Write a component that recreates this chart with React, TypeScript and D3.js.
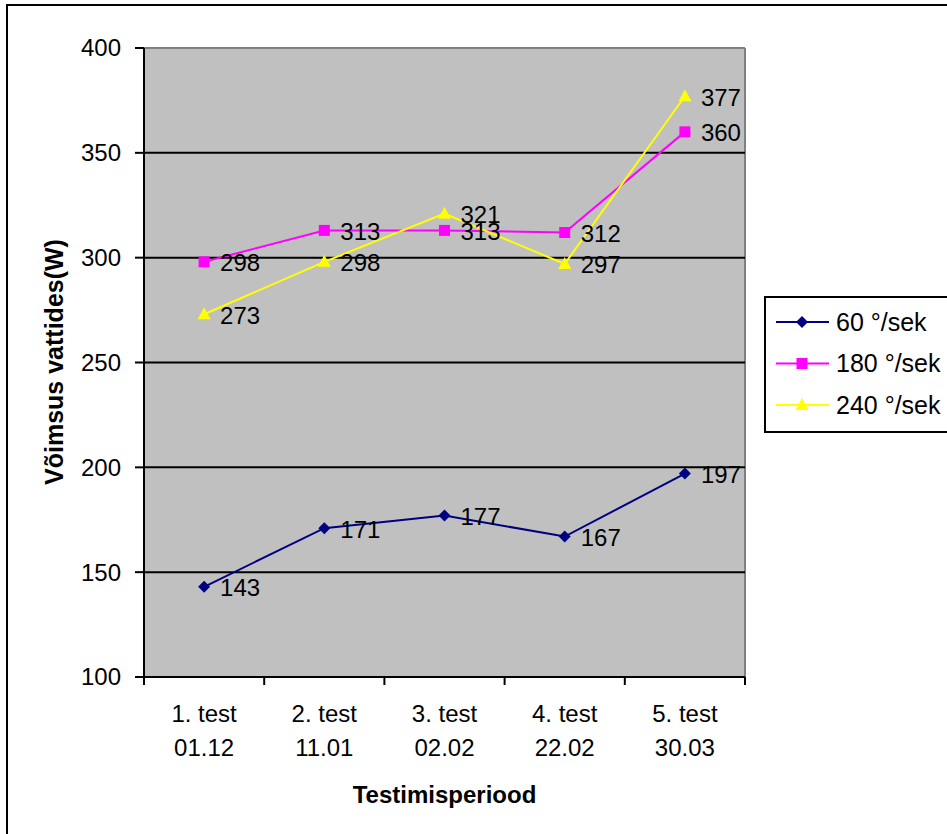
import React from "react";
import * as d3 from "d3";

const categories = ["1. test|01.12", "2. test|11.01", "3. test|02.02", "4. test|22.02", "5. test|30.03"];
const seriesNames = ["60 °/sek", "180 °/sek", "240 °/sek"];
const values60 = [143, 171, 177, 167, 197];
const values180 = [298, 313, 313, 312, 360];
const values240 = [273, 298, 321, 297, 377];
const yTicks = [100, 150, 200, 250, 300, 350, 400];
const colors = ["#000080", "#FF00FF", "#FFFF00"];
const markers = ["diamond", "square", "triangle"];

const W = 947;
const H = 834;
const FONT = "Arial, 'Liberation Sans', sans-serif";

function Marker({ kind, x, y, color }: { kind: string; x: number; y: number; color: string }) {
  if (kind === "diamond") {
    const s = 6;
    return <path d={`M${x},${y - s}L${x + s},${y}L${x},${y + s}L${x - s},${y}Z`} fill={color} />;
  }
  if (kind === "square") {
    const s = 5.5;
    return <rect x={x - s} y={y - s} width={2 * s} height={2 * s} fill={color} />;
  }
  const h = 12, w = 13;
  return <path d={`M${x},${y - h / 2 - 1}L${x + w / 2},${y + h / 2 - 1}L${x - w / 2},${y + h / 2 - 1}Z`} fill={color} />;
}

export default function App() {
  const series = [values60, values180, values240];
  const x = d3.scaleBand<string>().domain(categories).range([144, 745]).padding(0);
  const y = d3.scaleLinear().domain([100, 400]).range([677, 48]);
  const cx = (c: string) => (x(c) as number) + x.bandwidth() / 2;
  const line = d3
    .line<number>()
    .x((_, i) => cx(categories[i]))
    .y((d) => y(d));

  const left = 144, right = 745, top = 48, bottom = 677;
  const boundaries = [...categories.map((c) => x(c) as number), right];

  const legendX = 765, legendY = 297;
  const legendRowY = [322, 363.5, 405];

  return (
    <svg
      width={W}
      height={H}
      style={{ position: "absolute", left: 0, top: 0, background: "#fff" }}
      fontFamily={FONT}
    >
      {/* outer frame */}
      <rect x={7} y={5} width={1100} height={1000} fill="#fff" stroke="#000" strokeWidth={2} />

      {/* plot area */}
      <rect x={left} y={top} width={right - left} height={bottom - top} fill="#C0C0C0" />
      <line x1={left} x2={right} y1={top} y2={top} stroke="#808080" strokeWidth={2} />
      <line x1={right} x2={right} y1={top} y2={bottom} stroke="#808080" strokeWidth={2} />
      {yTicks
        .filter((t) => t !== 100 && t !== 400)
        .map((t) => (
          <line key={t} x1={left} x2={right} y1={y(t)} y2={y(t)} stroke="#000" strokeWidth={2} />
        ))}

      {/* axes */}
      <line x1={left} x2={left} y1={top} y2={bottom} stroke="#000" strokeWidth={2} />
      <line x1={left} x2={right} y1={bottom} y2={bottom} stroke="#000" strokeWidth={2} />
      {yTicks.map((t) => (
        <g key={t}>
          <line x1={left - 9} x2={left} y1={y(t)} y2={y(t)} stroke="#000" strokeWidth={2} />
          <text x={121} y={y(t)} dy="0.35em" textAnchor="end" fontSize={24} fill="#000">
            {t}
          </text>
        </g>
      ))}
      {boundaries.map((b, i) => (
        <line key={i} x1={b} x2={b} y1={bottom} y2={bottom + 8} stroke="#000" strokeWidth={2} />
      ))}
      {categories.map((c) => {
        const [l1, l2] = c.split("|");
        return (
          <g key={c}>
            <text x={cx(c)} y={714} dy="0.35em" textAnchor="middle" fontSize={24} fill="#000">
              {l1}
            </text>
            <text x={cx(c)} y={748} dy="0.35em" textAnchor="middle" fontSize={24} fill="#000">
              {l2}
            </text>
          </g>
        );
      })}

      {/* axis titles */}
      <text x={444.5} y={795} dy="0.35em" textAnchor="middle" fontSize={24} fontWeight="bold" fill="#000">
        Testimisperiood
      </text>
      <text
        transform={`translate(63,362) rotate(-90)`}
        textAnchor="middle"
        fontSize={25}
        fontWeight="bold"
        fill="#000"
      >
        Võimsus vattides(W)
      </text>

      {/* series */}
      {series.map((vals, si) => (
        <g key={si}>
          <path d={line(vals) as string} fill="none" stroke={colors[si]} strokeWidth={2} />
          {vals.map((v, i) => (
            <Marker key={i} kind={markers[si]} x={cx(categories[i])} y={y(v)} color={colors[si]} />
          ))}
        </g>
      ))}
      {series.map((vals, si) =>
        vals.map((v, i) => (
          <text
            key={`${si}-${i}`}
            x={cx(categories[i]) + 16}
            y={y(v) + 1}
            dy="0.35em"
            fontSize={24}
            fill="#000"
          >
            {v}
          </text>
        ))
      )}

      {/* legend */}
      <rect x={legendX} y={legendY} width={300} height={135} fill="#fff" stroke="#000" strokeWidth={2} />
      {seriesNames.map((n, i) => (
        <g key={n}>
          <line x1={776} x2={829} y1={legendRowY[i]} y2={legendRowY[i]} stroke={colors[i]} strokeWidth={2} />
          <Marker kind={markers[i]} x={802} y={legendRowY[i]} color={colors[i]} />
          <text x={836} y={legendRowY[i]} dy="0.35em" fontSize={25} fill="#000">
            {n}
          </text>
        </g>
      ))}
    </svg>
  );
}
